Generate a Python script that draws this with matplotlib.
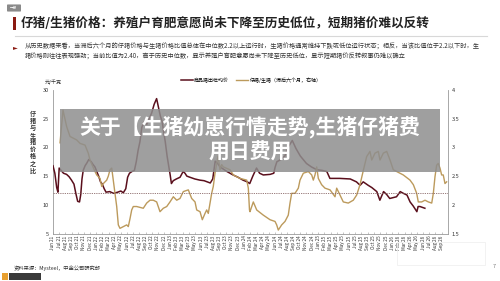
import numpy as np
import matplotlib
matplotlib.use("Agg")
import matplotlib.pyplot as plt
from matplotlib.lines import Line2D
from matplotlib.patches import Rectangle, FancyBboxPatch

plt.rcParams['font.family'] = ['Noto Sans CJK SC', 'DejaVu Sans']

# month labels, Jun 21 .. Sep 26
month_names = ['Jan', 'Feb', 'Mar', 'Apr', 'May', 'Jun',
               'Jul', 'Aug', 'Sep', 'Oct', 'Nov', 'Dec']
month_labels = []
for k in range(64):
    mi = (5 + k) % 12
    yy = 21 + (5 + k) // 12
    month_labels.append(f"{month_names[mi]} {yy}")

# 商品猪出栏均价 (元/千克), time in months since Jun 21
price_t = [0.0, 0.3, 0.6, 0.8, 1.0, 1.3, 1.7, 2.2, 2.6, 3.0, 3.4, 3.7, 4.0, 4.3,
           4.5, 4.7, 4.9, 5.2, 5.5, 5.8, 6.2, 6.5, 6.8, 7.1, 7.4, 7.7, 8.0, 8.3,
           8.6, 9.2, 9.8, 10.5, 11.0, 11.4, 11.8, 12.1, 12.4, 12.8, 13.2, 13.5,
           13.8, 14.1, 14.4, 14.8, 15.2, 15.6, 16.0, 16.4, 16.8, 17.1, 17.4,
           17.7, 17.9, 18.2, 18.5, 18.8, 19.0, 19.2, 19.5, 20.0, 20.6, 21.1,
           21.4, 21.7, 22.2, 23.0, 23.8, 24.5, 25.0, 25.5, 25.9, 26.3, 26.7,
           27.1, 28.2, 29.2, 30.0, 30.8, 31.5, 31.9, 32.4, 33.0, 33.5, 34.1,
           35.2, 35.8, 36.0, 36.3, 36.8, 37.6, 38.1, 38.8, 39.4, 40.1, 41.1,
           41.9, 42.8, 43.6, 44.4, 44.9, 46.5, 48.2, 49.2, 49.8, 50.3, 51.1,
           51.7, 52.5, 53.0, 53.6, 54.1, 54.6, 55.7, 56.3, 56.8, 57.4, 57.9,
           58.4, 59.0, 59.2, 59.5, 60.3]
price = [16.8, 15.5, 13.0, 12.2, 16.4, 16.0, 15.5, 15.3, 14.9, 14.3, 13.6, 12.0,
         10.6, 10.5, 11.8, 14.5, 16.0, 16.8, 17.3, 17.9, 17.5, 17.0, 16.6, 15.8,
         15.0, 14.0, 13.6, 12.8, 12.2, 12.3, 12.0, 12.2, 12.4, 12.1, 12.8, 14.8,
         15.5, 15.8, 16.0, 17.5, 19.5, 21.0, 23.5, 24.5, 24.0, 25.0, 26.0, 27.5,
         28.5, 27.0, 25.5, 24.5, 23.0, 21.0, 18.5, 16.5, 15.2, 13.7, 14.2, 14.5,
         14.8, 15.8, 15.5, 15.0, 14.8, 14.5, 14.3, 14.2, 14.0, 13.8, 14.5, 17.6,
         17.2, 16.6, 15.8, 15.2, 14.8, 14.3, 14.0, 13.7, 15.0, 16.4, 15.5, 15.2,
         15.3, 15.5, 16.5, 17.5, 17.8, 18.5, 20.0, 21.2, 19.8, 18.5, 17.2, 16.6,
         16.1, 16.0, 15.8, 14.6, 14.6, 14.5, 14.0, 13.4, 14.0, 13.4, 13.0, 12.3,
         10.8, 12.3, 11.8, 11.1, 11.4, 12.3, 12.0, 11.7, 10.5, 9.8, 8.8, 9.7,
         9.7, 9.4]

# 仔猪/生猪 (滞后六个月, 右轴)
ratio_t = [1.14, 1.62, 2.22, 2.76, 3.84, 4.38, 5.19, 5.72, 6.0, 6.81, 7.09, 7.62,
           7.9, 8.16, 8.71, 8.97, 9.24, 9.52, 9.78, 10.05, 10.33, 10.59, 10.86,
           11.4, 11.95, 12.21, 12.49, 12.76, 13.02, 13.57, 14.64, 15.19, 15.73,
           16.26, 16.81, 17.35, 17.89, 18.44, 18.97, 19.51, 20.06, 20.59, 21.13,
           21.94, 22.49, 23.03, 23.3, 23.84, 24.21, 24.65, 24.92, 25.18, 25.46,
           25.73, 25.99, 26.27, 26.55, 26.76, 26.9, 27.08, 27.35, 27.61, 28.7,
           29.24, 30.32, 31.41, 31.67, 31.86, 31.94, 32.48, 33.03, 34.1, 35.19,
           36.0, 36.27, 36.53, 37.08, 37.62, 38.15, 38.43, 38.7, 39.24, 39.78,
           40.05, 40.59, 41.4, 41.95, 42.21, 42.48, 42.76, 43.02, 43.56, 44.1,
           44.92, 45.73, 46.0, 46.54, 47.07, 47.88, 48.69, 49.24, 49.78, 50.32,
           50.86, 51.4, 51.68, 52.21, 52.75, 53.02, 53.56, 54.11, 54.65, 55.18,
           55.73, 56.8, 57.89, 58.43, 58.97, 59.23, 59.78, 60.32, 60.86, 61.41,
           61.67, 61.94, 62.21, 62.47, 62.75, 63.02, 63.28, 63.56, 63.83]
ratio = [3.08, 3.65, 3.36, 3.19, 3.13, 3.07, 3.04, 2.90, 2.78, 2.58, 2.52, 2.46,
         2.32, 2.37, 2.43, 2.50, 2.61, 2.64, 2.43, 2.20, 1.97, 1.65, 1.59, 1.62,
         1.65, 1.62, 1.76, 1.91, 1.97, 1.97, 1.94, 2.03, 2.08, 2.08, 2.05, 1.88,
         1.94, 1.97, 2.05, 2.14, 2.08, 2.11, 2.23, 2.26, 2.11, 2.05, 1.91, 1.88,
         1.74, 1.85, 1.91, 1.85, 2.03, 2.20, 2.32, 2.55, 2.72, 2.85, 2.75, 2.61,
         2.70, 2.66, 2.61, 2.52, 2.46, 2.43, 2.29, 1.91, 1.88, 2.05, 1.91, 1.82,
         1.74, 1.71, 1.65, 1.56, 1.65, 1.71, 1.82, 2.03, 2.20, 2.20, 2.29, 2.43,
         2.55, 2.58, 2.52, 2.43, 2.52, 2.66, 2.46, 2.35, 2.29, 2.26, 2.14, 2.29,
         2.17, 2.05, 2.03, 2.08, 2.17, 2.35, 2.60, 2.84, 2.93, 2.78, 2.90, 2.93,
         2.78, 2.90, 2.93, 2.78, 2.61, 2.58, 2.52, 2.43, 2.35, 2.20, 2.05, 2.05,
         2.08, 2.05, 2.03, 2.20, 2.49, 2.69, 2.72, 2.64, 2.52, 2.52, 2.37, 2.40]

median_ratio = 2.2

title = "仔猪/生猪价格：养殖户育肥意愿尚未下降至历史低位，短期猪价难以反转"
bullet_1 = ("从历史数据来看，当滞后六个月的仔猪价格与生猪价格比值总体在中位数2.2以上运行时，"
            "生猪价格通常维持下跌或低位运行状态；相反，当该比值位于2.2以下时，生")
bullet_2 = ("猪价格则往往表现强劲；当前比值为2.40，高于历史中位数，显示养殖户育肥意愿尚未"
            "下降至历史低位，显示短期猪价反转叙事仍难以确立")
banner_1 = "关于【生猪幼崽行情走势,生猪仔猪费"
banner_2 = "用日费用"

DARK = '#5a0f1c'
GOLD = '#bc9a5c'
TXT = '#333333'

fig = plt.figure(figsize=(5.0, 2.81), dpi=100)
fig.patch.set_facecolor('white')

# page header
fig.patches.append(FancyBboxPatch((8 / 500, 1 - 11 / 281), 12 / 500, 6 / 281,
                                  boxstyle='round,pad=0.002', transform=fig.transFigure,
                                  facecolor='#8a8a8a', edgecolor='none'))
fig.text(14 / 500, 1 - 8 / 281, "一般", fontsize=2.6, color='white', ha='center', va='center')
fig.patches.append(Rectangle((13 / 500, 1 - 30 / 281), 3 / 500, 13 / 281,
                             transform=fig.transFigure, facecolor='#8b1a12', edgecolor='none'))
fig.text(21 / 500, 1 - 23.5 / 281, title, fontsize=9.1, fontweight='bold',
         color='#222222', va='center', ha='left')
fig.add_artist(Line2D([15 / 500, 487 / 500], [1 - 36 / 281, 1 - 36 / 281],
                      transform=fig.transFigure, color='#d8d8d8', lw=0.8))
fig.text(13 / 500, 1 - 47 / 281, "►", fontsize=4.5, color='#8b1a12', va='center')
fig.text(25 / 500, 1 - 47 / 281, bullet_1, fontsize=4.5, color=TXT, va='center')
fig.text(25 / 500, 1 - 57 / 281, bullet_2, fontsize=4.5, color=TXT, va='center')

# chart
ax = fig.add_axes([53 / 500, 1 - 233.5 / 281, 394.7 / 500, 143.5 / 281])
ax2 = ax.twinx()

ax.plot(price_t, price, color=DARK, lw=1.1, zorder=3)
ax2.plot(ratio_t, ratio, color=GOLD, lw=1.0, zorder=2)
ax2.axhline(median_ratio, color='#8c6a6a', lw=0.6, ls=(0, (1.5, 1.2)))

ax.set_xlim(0, 64)
ax.set_ylim(5, 30)
ax2.set_ylim(1.5, 4)
ax.set_yticks([5, 10, 15, 20, 25, 30])
ax2.set_yticks([1.5, 2, 2.5, 3, 3.5, 4])
ax2.set_yticklabels(['1.5', '2', '2.5', '3', '3.5', '4'])
ax.set_xticks(np.arange(64))
ax.set_xticklabels(month_labels, rotation=90, fontsize=3.3, color=TXT)

for a in (ax, ax2):
    a.spines['top'].set_visible(False)
    for s in ('left', 'right', 'bottom'):
        a.spines[s].set_color('#9a9a9a')
        a.spines[s].set_linewidth(0.6)
    a.tick_params(axis='y', labelsize=4, colors=TXT, length=0, pad=3)
ax.spines['right'].set_visible(False)
ax2.spines['left'].set_visible(False)
ax2.spines['bottom'].set_visible(False)
ax.tick_params(axis='x', length=1.5, width=0.4, color='#9a9a9a', pad=1.5, direction='in')

ax.text(0, 30.8, "元/千克", fontsize=3.6, color=TXT, ha='center', va='bottom')
fig.text(33 / 500, 1 - 142 / 281, "\n".join("仔猪与生猪价格之比"), fontsize=4.4,
         fontweight='bold', color=TXT, ha='center', va='center', linespacing=1.0)

handles = [Line2D([], [], color=DARK, lw=1.1), Line2D([], [], color=GOLD, lw=1.0)]
fig.legend(handles, ["商品猪出栏均价", "仔猪/生猪（滞后六个月，右轴）"],
           loc='center', bbox_to_anchor=(251 / 500, 1 - 80 / 281), ncol=2,
           frameon=False, fontsize=3.6, handlelength=2.4, columnspacing=1.4,
           handletextpad=0.3)

# footer
fig.text(14 / 500, 1 - 268 / 281, "资料来源：Mysteel，中金公司研究部", fontsize=3.8,
         color=TXT, va='center')
fig.text(494 / 500, 1 - 267 / 281, "7", fontsize=3.8, color='#777777', ha='center', va='center')
fig.patches.append(Rectangle((2 / 500, 1 - 280 / 281), 6 / 500, 7 / 281, transform=fig.transFigure,
                             facecolor='#e8a030', edgecolor='none'))
fig.patches.append(Rectangle((9 / 500, 1 - 280 / 281), 32 / 500, 7 / 281, transform=fig.transFigure,
                             facecolor='#3a3a3a', edgecolor='none'))
fig.patches.append(Rectangle((397 / 500, 1 - 265 / 281), 88 / 500, 23 / 281, transform=fig.transFigure,
                             facecolor='none', edgecolor='#f0f0f0', lw=0.6))

# overlay banner
fig.patches.append(Rectangle((60 / 500, 1 - 172 / 281), 380 / 500, 63 / 281,
                             transform=fig.transFigure, facecolor='#8e8e8e',
                             edgecolor='none', alpha=0.85, zorder=10))
fig.text(250 / 500, 1 - 127 / 281, banner_1, fontsize=15, fontweight='bold',
         color='white', ha='center', va='center', zorder=11)
fig.text(250 / 500, 1 - 152 / 281, banner_2, fontsize=15, fontweight='bold',
         color='white', ha='center', va='center', zorder=11)

fig.savefig("out.png", dpi=100)
